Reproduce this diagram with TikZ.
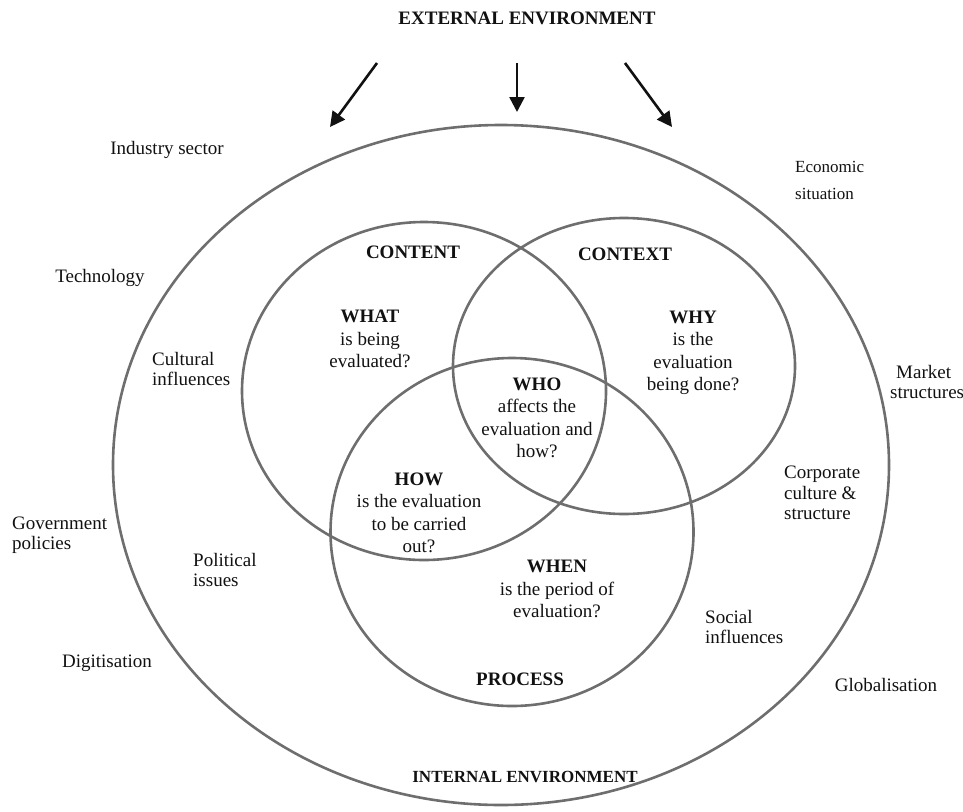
\documentclass[tikz,border=0pt]{standalone}
\usepackage{fontspec}
\setmainfont{Liberation Serif}
\usetikzlibrary{arrows.meta,shapes.geometric}
\definecolor{Ring}{HTML}{6E6E6E}
\definecolor{Ink}{HTML}{111111}

\begin{document}
\begin{tikzpicture}[x=1pt,y=-1pt,
  ring/.style={ellipse,draw=Ring,line width=2.6pt,inner sep=0pt},
  factor/.style={font=\fontsize{19}{20.5}\selectfont,text=Ink,align=left,inner sep=0pt},
  question/.style={font=\fontsize{19}{22.5}\selectfont,text=Ink,align=center,inner sep=0pt},
  heading/.style={font=\fontsize{19}{22}\selectfont\bfseries,text=Ink,inner sep=0pt},
  push/.style={-{Triangle[length=15pt,width=15pt]},line width=2.6pt,draw=Ink}
]
\useasboundingbox (0,0) rectangle (963,811);
\node[ring,minimum width=776pt,minimum height=680pt] (outer) at (501,465) {};
\node[ring,minimum width=364pt,minimum height=338pt] (content) at (424,391) {};
\node[ring,minimum width=342pt,minimum height=296pt] (context) at (624,366) {};
\node[ring,minimum width=363pt,minimum height=348pt] (process) at (512,532) {};
\coordinate (l0) at (377,63);
\coordinate (l1) at (330,127);
\coordinate (m0) at (517,63);
\coordinate (m1) at (517,112);
\coordinate (r0) at (625,63);
\coordinate (r1) at (672,127);
\draw[push] (l0) -- (l1);
\draw[push] (m0) -- (m1);
\draw[push] (r0) -- (r1);
\node[heading] (ext) at (527,18) {EXTERNAL ENVIRONMENT};
\node[heading,font=\fontsize{17}{20}\selectfont\bfseries] (int) at (525,777) {INTERNAL ENVIRONMENT};
\node[heading] (contenttitle) at (413,252) {CONTENT};
\node[heading] (contexttitle) at (625,254) {CONTEXT};
\node[heading] (processtitle) at (520,679) {PROCESS};
\node[question] (what) at (370,339) {\textbf{WHAT}\\is being\\evaluated?};
\node[question] (why) at (693,353) {\textbf{WHY}\\is the\\evaluation\\being done?};
\node[question] (who) at (537,418) {\textbf{WHO}\\affects the\\evaluation and\\how?};
\node[question] (how) at (419,513) {\textbf{HOW}\\is the evaluation\\to be carried\\out?};
\node[question] (when) at (557,589) {\textbf{WHEN}\\is the period of\\evaluation?};
\node[factor] (industry) at (167,150) {Industry sector};
\node[factor,anchor=west,font=\fontsize{17}{27}\selectfont] (economic) at (795,180) {Economic\\situation};
\node[factor] (technology) at (100,278) {Technology};
\node[factor,anchor=west] (cultural) at (152,369) {Cultural\\influences};
\node[factor,anchor=west] (market) at (890,382) {\hspace*{6pt}Market\\structures};
\node[factor,anchor=west] (corporate) at (784,493) {Corporate\\culture \&\\structure};
\node[factor,anchor=west] (government) at (12,535) {Government\\policies};
\node[factor,anchor=west] (political) at (193,570) {Political\\issues};
\node[factor,anchor=west] (social) at (705,627) {Social\\influences};
\node[factor] (digitisation) at (107,663) {Digitisation};
\node[factor] (globalisation) at (886,685) {Globalisation};
\end{tikzpicture}
\end{document}
